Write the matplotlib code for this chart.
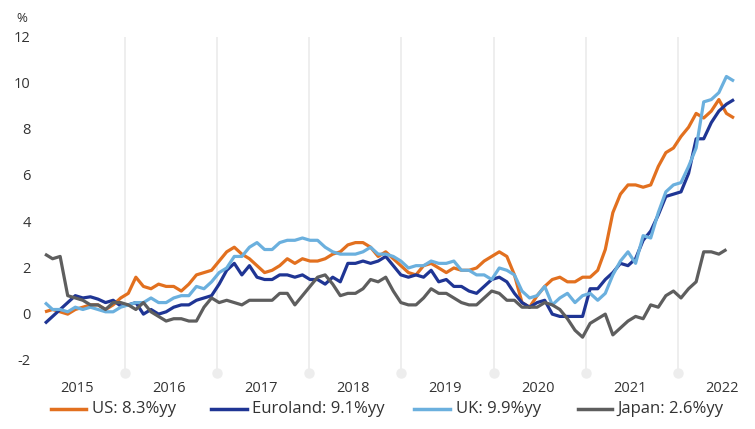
import matplotlib
matplotlib.use("Agg")
import matplotlib.pyplot as plt
from matplotlib.lines import Line2D
from matplotlib.transforms import blended_transform_factory, ScaledTranslation
import numpy as np

# ---------------- data (monthly, Jan 2015 - Aug 2022, % y/y) ----------------
us = [-0.1, 0.0, -0.1, -0.2, 0.0, 0.1, 0.2, 0.2, 0.0, 0.2, 0.5, 0.7,
      1.4, 1.0, 0.9, 1.1, 1.0, 1.0, 0.8, 1.1, 1.5, 1.6, 1.7, 2.1,
      2.5, 2.7, 2.4, 2.2, 1.9, 1.6, 1.7, 1.9, 2.2, 2.0, 2.2, 2.1,
      2.1, 2.2, 2.4, 2.5, 2.8, 2.9, 2.9, 2.7, 2.3, 2.5, 2.2, 1.9,
      1.6, 1.5, 1.9, 2.0, 1.8, 1.6, 1.8, 1.7, 1.7, 1.8, 2.1, 2.3,
      2.5, 2.3, 1.5, 0.3, 0.1, 0.6, 1.0, 1.3, 1.4, 1.2, 1.2, 1.4,
      1.4, 1.7, 2.6, 4.2, 5.0, 5.4, 5.4, 5.3, 5.4, 6.2, 6.8, 7.0,
      7.5, 7.9, 8.5, 8.3, 8.6, 9.1, 8.5, 8.3]
euroland = [-0.6, -0.3, 0.0, 0.3, 0.6, 0.5, 0.55, 0.45, 0.3, 0.4, 0.15, 0.2,
            0.3, -0.2, 0.0, -0.2, -0.1, 0.1, 0.2, 0.2, 0.4, 0.5, 0.6, 1.1,
            1.7, 2.0, 1.5, 1.9, 1.4, 1.3, 1.3, 1.5, 1.5, 1.4, 1.5, 1.3,
            1.3, 1.1, 1.4, 1.2, 2.0, 2.0, 2.1, 2.0, 2.1, 2.3, 1.9, 1.5,
            1.4, 1.5, 1.4, 1.7, 1.2, 1.3, 1.0, 1.0, 0.8, 0.7, 1.0, 1.3,
            1.4, 1.2, 0.7, 0.3, 0.1, 0.3, 0.4, -0.2, -0.3, -0.3, -0.3, -0.3,
            0.9, 0.9, 1.3, 1.6, 2.0, 1.9, 2.2, 3.0, 3.4, 4.1, 4.9, 5.0,
            5.1, 5.9, 7.4, 7.4, 8.1, 8.6, 8.9, 9.1]
uk = [0.3, 0.0, 0.0, -0.1, 0.1, 0.0, 0.1, 0.0, -0.1, -0.1, 0.1, 0.2,
      0.3, 0.3, 0.5, 0.3, 0.3, 0.5, 0.6, 0.6, 1.0, 0.9, 1.2, 1.6,
      1.8, 2.3, 2.3, 2.7, 2.9, 2.6, 2.6, 2.9, 3.0, 3.0, 3.1, 3.0,
      3.0, 2.7, 2.5, 2.4, 2.4, 2.4, 2.5, 2.7, 2.4, 2.4, 2.3, 2.1,
      1.8, 1.9, 1.9, 2.1, 2.0, 2.0, 2.1, 1.7, 1.7, 1.5, 1.5, 1.3,
      1.8, 1.7, 1.5, 0.8, 0.5, 0.6, 1.0, 0.2, 0.5, 0.7, 0.3, 0.6,
      0.7, 0.4, 0.7, 1.5, 2.1, 2.5, 2.0, 3.2, 3.1, 4.2, 5.1, 5.4,
      5.5, 6.2, 7.0, 9.0, 9.1, 9.4, 10.1, 9.9]
japan = [2.4, 2.2, 2.3, 0.6, 0.5, 0.4, 0.2, 0.2, 0.0, 0.3, 0.3, 0.2,
         0.0, 0.3, -0.1, -0.3, -0.5, -0.4, -0.4, -0.5, -0.5, 0.1, 0.5, 0.3,
         0.4, 0.3, 0.2, 0.4, 0.4, 0.4, 0.4, 0.7, 0.7, 0.2, 0.6, 1.0,
         1.4, 1.5, 1.1, 0.6, 0.7, 0.7, 0.9, 1.3, 1.2, 1.4, 0.8, 0.3,
         0.2, 0.2, 0.5, 0.9, 0.7, 0.7, 0.5, 0.3, 0.2, 0.2, 0.5, 0.8,
         0.7, 0.4, 0.4, 0.1, 0.1, 0.1, 0.3, 0.2, 0.0, -0.4, -0.9, -1.2,
         -0.6, -0.4, -0.2, -1.1, -0.8, -0.5, -0.3, -0.4, 0.2, 0.1, 0.6, 0.8,
         0.5, 0.9, 1.2, 2.5, 2.5, 2.4, 2.6]

series_labels = ["US: 8.3%yy", "Euroland: 9.1%yy", "UK: 9.9%yy", "Japan: 2.6%yy"]
year_labels = ["2015", "2016", "2017", "2018", "2019", "2020", "2021", "2022"]
ytick_values = [-2, 0, 2, 4, 6, 8, 10, 12]

# ---------------- style ----------------
colors = ["#E2701F", "#1F3594", "#6BB0DE", "#5E5E5E"]
text_color = "#333333"
grid_color = "#EDEDED"
plt.rcParams["font.family"] = ["Open Sans", "DejaVu Sans"]

W, H = 755, 429
fig = plt.figure(figsize=(W / 100, H / 100), dpi=100)

ppm = 689 / 91.0                      # pixels per month
x_left_px = 45 - ppm
x_right_px = 734 + ppm
ymin, ymax = -2.74, 12.3
y0_px, ppu = 309.5, 23.07
top_px = y0_px - ymax * ppu
bot_px = y0_px - ymin * ppu
ax = fig.add_axes([x_left_px / W, 1 - bot_px / H,
                   (x_right_px - x_left_px) / W, (bot_px - top_px) / H])
ax.set_xlim(-1, 92)
ax.set_ylim(ymin, ymax)
for s in ax.spines.values():
    s.set_visible(False)

# vertical grid lines with dots at bottom
grid_pos = [10.57 + 12.17 * k for k in range(7)]
grid_top = (y0_px - 36.7) / ppu
ax.vlines(grid_pos, ymin, grid_top, color=grid_color, lw=1.3, zorder=0)
ax.plot(grid_pos, [ymin] * len(grid_pos), "o", ms=6.5, color=grid_color,
        clip_on=False, zorder=0)

# lines
for vals, c in zip([us, euroland, uk, japan], colors):
    ax.plot(np.arange(len(vals)), vals, color=c, lw=2.3,
            solid_joinstyle="round", solid_capstyle="butt", clip_on=False, zorder=3)

# x labels
label_pos = [4.2 + 12.17 * k for k in range(len(year_labels))]
ax.set_xticks(label_pos, year_labels)
ax.tick_params(axis="x", length=0, pad=6, labelsize=10.5, labelcolor=text_color)
ax.set_yticks([])

# y labels (drawn slightly below their values as in the reference)
tr = blended_transform_factory(ax.transAxes, ax.transData) + \
    ScaledTranslation(-6.7 / 100, -5.8 / 100, fig.dpi_scale_trans)
for v in ytick_values:
    ax.text(0, v, str(v), transform=tr, ha="right", va="center",
            fontsize=10.5, color=text_color)
fig.text(21.7 / W, 1 - 19 / H, "%", ha="center", va="center",
         fontsize=9.5, color=text_color)

# legend
leg_y = 1 - 409 / H
line_x = [(51, 86), (211, 247), (414, 450), (578, 612)]
text_x = [92, 252, 456, 617]
for (a, b), tx, c, lab in zip(line_x, text_x, colors, series_labels):
    fig.add_artist(Line2D([a / W, b / W], [leg_y, leg_y], color=c, lw=2.5,
                          transform=fig.transFigure))
    fig.text(tx / W, leg_y, lab, ha="left", va="center", fontsize=12,
             color=text_color)

fig.savefig("out.png", dpi=100, facecolor="white")
